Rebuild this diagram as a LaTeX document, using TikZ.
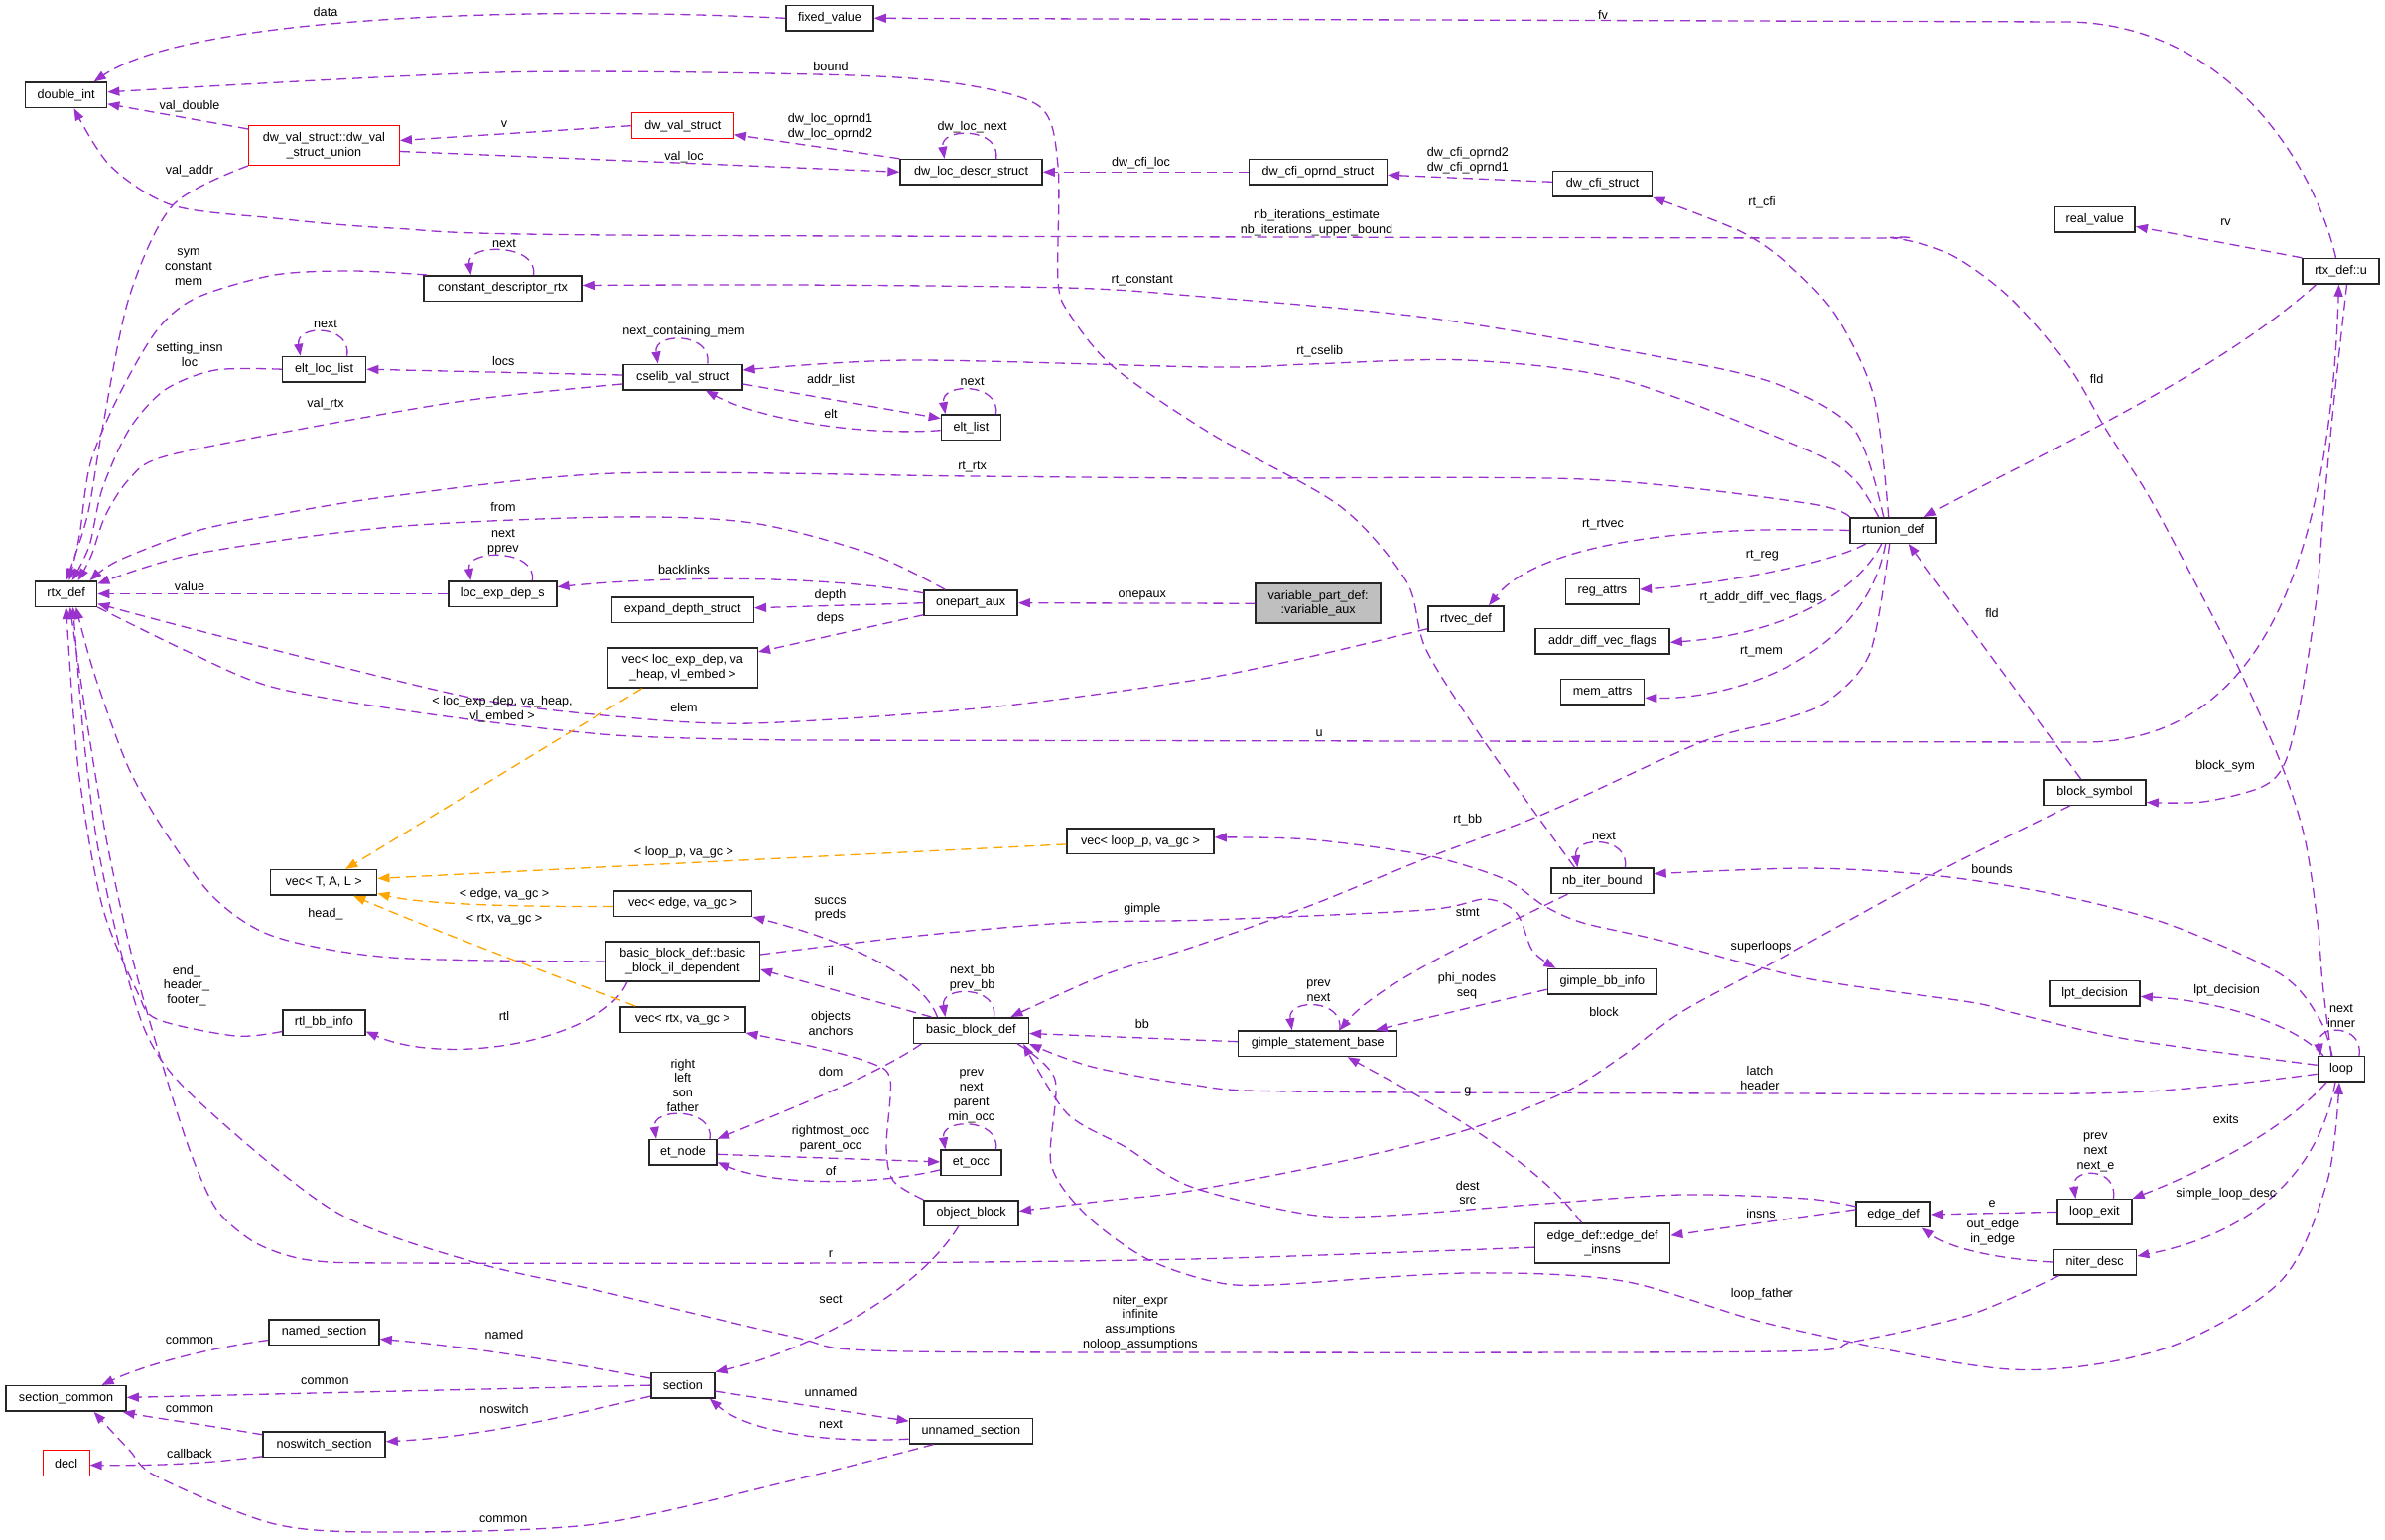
\documentclass[tikz,border=0pt]{standalone}
\usepackage{fontspec}
\setmainfont{Liberation Sans}
\usetikzlibrary{arrows.meta}
\definecolor{edgepurple}{HTML}{9A32CD}
\definecolor{tplorange}{HTML}{FFA500}
\definecolor{boxgray}{HTML}{BFBFBF}
\tikzset{
  box/.style={draw=black!85, line width=1.5pt, fill=white, minimum height=25.5pt, inner sep=0pt, align=center, font=\fontsize{12.6}{14.7}\selectfont},
  redbox/.style={box, draw=red, line width=1.1pt},
  lbl/.style={inner sep=0pt, align=center, font=\fontsize{12.6}{14.7}\selectfont},
  uses/.style={draw=edgepurple, line width=1.3pt, dash pattern=on 10pt off 6pt, -{Triangle[length=12pt,width=9pt]}},
  tmpl/.style={uses, draw=tplorange}
}
\begin{document}
\begin{tikzpicture}[x=1pt, y=-1pt]
  \path[use as bounding box, fill=white] (0,0) rectangle (2403,1552);

  \node[box, minimum width=82pt] (dblint) at (66.6,95.8) {double\_int};
  \node[redbox, minimum width=152pt, minimum height=40pt] (union) at (326.4,146.5) {dw\_val\_struct::dw\_val\\\_struct\_union};
  \node[redbox, minimum width=103pt] (dwval) at (687.8,126.7) {dw\_val\_struct};
  \node[box, minimum width=143pt] (dwloc) at (978.6,173.3) {dw\_loc\_descr\_struct};
  \node[box, minimum width=139pt] (cfiop) at (1327.9,173.3) {dw\_cfi\_oprnd\_struct};
  \node[box, minimum width=100pt] (cfi) at (1614.6,185.3) {dw\_cfi\_struct};
  \node[box, minimum width=88pt] (fixval) at (836,18.3) {fixed\_value};
  \node[box, minimum width=81pt] (realval) at (2110.7,221.3) {real\_value};
  \node[box, minimum width=77pt] (rtxu) at (2358.5,273.3) {rtx\_def::u};
  \node[box, minimum width=159pt] (cdrtx) at (506.5,290.5) {constant\_descriptor\_rtx};
  \node[box, minimum width=84pt] (eltloc) at (326.6,372.2) {elt\_loc\_list};
  \node[box, minimum width=120pt] (cselib) at (687.8,380) {cselib\_val\_struct};
  \node[box, minimum width=60pt] (eltlist) at (978.4,430.7) {elt\_list};
  \node[box, minimum width=62pt] (rtxdef) at (66.6,598.5) {rtx\_def};
  \node[box, minimum width=109pt] (locdep) at (506.3,598.5) {loc\_exp\_dep\_s};
  \node[box, minimum width=143pt] (expdepth) at (687.8,614.7) {expand\_depth\_struct};
  \node[box, minimum width=151pt, minimum height=40pt] (vecloc) at (687.8,673) {vec< loc\_exp\_dep, va\\\_heap, vl\_embed >};
  \node[box, minimum width=94pt] (onepart) at (978.2,607.7) {onepart\_aux};
  \node[box, fill=boxgray, minimum width=126pt, minimum height=40pt] (varaux) at (1328.1,608.2) {variable\_part\_def:\\:variable\_aux};
  \node[box, minimum width=76pt] (rtvec) at (1477,623.7) {rtvec\_def};
  \node[box, minimum width=74pt] (regattrs) at (1614.4,596) {reg\_attrs};
  \node[box, minimum width=135pt] (addrdiff) at (1614.6,646.3) {addr\_diff\_vec\_flags};
  \node[box, minimum width=84pt] (memattrs) at (1614.6,697.3) {mem\_attrs};
  \node[box, minimum width=87pt] (rtunion) at (1907.7,534.5) {rtunion\_def};
  \node[box, minimum width=103pt] (blocksym) at (2110.6,798.5) {block\_symbol};
  \node[box, minimum width=107pt] (vecT) at (326.2,889.4) {vec< T, A, L >};
  \node[box, minimum width=148pt] (vecloop) at (1149,847.9) {vec< loop\_p, va\_gc >};
  \node[box, minimum width=139pt] (vecedge) at (688,910.5) {vec< edge, va\_gc >};
  \node[box, minimum width=155pt, minimum height=40pt] (bbil) at (687.8,969) {basic\_block\_def::basic\\\_block\_il\_dependent};
  \node[box, minimum width=126pt] (vecrtx) at (687.8,1027.5) {vec< rtx, va\_gc >};
  \node[box, minimum width=83pt] (rtlbb) at (326.4,1030.5) {rtl\_bb\_info};
  \node[box, minimum width=103pt] (nbiter) at (1614.4,887.7) {nb\_iter\_bound};
  \node[box, minimum width=110pt] (gimplebb) at (1614.4,989.2) {gimple\_bb\_info};
  \node[box, minimum width=116pt] (bbdef) at (978.4,1038.5) {basic\_block\_def};
  \node[box, minimum width=160pt] (gsb) at (1327.7,1051.7) {gimple\_statement\_base};
  \node[box, minimum width=91pt] (lpt) at (2110.6,1001.4) {lpt\_decision};
  \node[box, minimum width=47pt] (loop) at (2358.9,1077.3) {loop};
  \node[box, minimum width=68pt] (etnode) at (688,1161.3) {et\_node};
  \node[box, minimum width=61pt] (etocc) at (978.4,1171.9) {et\_occ};
  \node[box, minimum width=95pt] (objblock) at (978.7,1222.5) {object\_block};
  \node[box, minimum width=136pt, minimum height=40pt] (edgeinsns) at (1614.6,1253.1) {edge\_def::edge\_def\\\_insns};
  \node[box, minimum width=75pt] (edgedef) at (1907.7,1223.9) {edge\_def};
  \node[box, minimum width=75pt] (loopexit) at (2110.4,1221.4) {loop\_exit};
  \node[box, minimum width=84pt] (niter) at (2110.6,1272) {niter\_desc};
  \node[box, minimum width=111pt] (namedsec) at (326.6,1342.5) {named\_section};
  \node[box, minimum width=121pt] (seccommon) at (66.6,1409.4) {section\_common};
  \node[box, minimum width=123pt] (noswitch) at (326.6,1455.8) {noswitch\_section};
  \node[redbox, minimum width=47pt] (decl) at (66.6,1474.5) {decl};
  \node[box, minimum width=64pt] (section) at (687.8,1396.1) {section};
  \node[box, minimum width=124pt] (unnamed) at (978.4,1442.2) {unnamed\_section};

  \draw[uses] (fixval.west) .. controls (520,5) and (190,18) .. ([xshift=28pt]dblint.north);
  \draw[uses] ([yshift=-4pt]union.north west) -- ([yshift=-9pt]dblint.east);
  \draw[uses] plot[smooth] coordinates {([xshift=-28pt]nbiter.north) (1496,748) (1437,655) (1417,586) (1350,510) (1220,437) (1122,370) (1078,317) (1066,283) (1066,167) (1047,107) (956,83) (821,75) (500,73) ([yshift=3pt]dblint.east)};
  \draw[uses] plot[smooth] coordinates {([xshift=-10pt]loop.north) (2340,990) (2335,930) (2322,844) (2298,769) (2255,672) (2220,603) (2165,500) (2122,433) (2083,367) (2025,300) (1966,257) (1907,240) (1820,240) (620,237) (395,230) (277,220) (174,207) (111,167) ([xshift=8pt]dblint.south)};
  \draw[uses] (dwval.west) -- ([yshift=5pt]union.east);
  \draw[uses] ([yshift=-6pt]union.east) -- (dwloc.west);
  \draw[uses] plot[smooth] coordinates {(union.south west) (174,207) (130,300) (103,433) (88,520) (rtxdef.north)};
  \draw[uses] (dwloc.north west) -- ([yshift=-9pt]dwval.east);
  \draw[uses] (cfiop.west) -- (dwloc.east);
  \draw[uses] ([yshift=2pt]cfi.west) -- ([yshift=-3pt]cfiop.east);

  \draw[uses] plot[smooth] coordinates {([xshift=-5pt]rtunion.north) (1888,400) (1849,317) (1800,265) (1753,233) (cfi.south east)};
  \draw[uses] plot[smooth] coordinates {([xshift=-10pt]rtunion.north) (1868,433) (1790,387) (1674,360) (1437,320) (1200,298) (1074,290) (800,287) ([yshift=3pt]cdrtx.east)};
  \draw[uses] plot[smooth] coordinates {([xshift=-15pt]rtunion.north) (1868,483) (1820,453) (1635,383) (1477,363) (1319,367) (1220,370) (916,363) ([yshift=7pt]cselib.east)};
  \draw[uses] plot[smooth] coordinates {(rtunion.north west) (1820,507) (1595,483) (1220,482) (980,480) (620,477) (395,500) (277,519) (198,535) (119,565) ([xshift=24pt]rtxdef.north)};
  \draw[uses] (rtunion.west) .. controls (1650,528) and (1540,560) .. ([xshift=23pt]rtvec.north);
  \draw[uses] ([xshift=-28pt]rtunion.south) .. controls (1840,570) and (1720,590) .. ([yshift=2pt]regattrs.east);
  \draw[uses] ([xshift=-12pt]rtunion.south) .. controls (1870,600) and (1790,640) .. ([yshift=-1pt]addrdiff.east);
  \draw[uses] ([xshift=-8pt]rtunion.south) .. controls (1880,660) and (1750,705) .. ([yshift=-6pt]memattrs.east);
  \draw[uses] plot[smooth] coordinates {([xshift=-4pt]rtunion.south) (1884,658) (1841,707) (1790,727) (1714,748) (1556,820) (1437,865) (1319,913) (1200,955) (1114,982) ([xshift=40pt]bbdef.north)};
  \draw[uses] ([xshift=-25pt]rtxu.south) .. controls (2230,380) and (2050,460) .. ([xshift=31pt]rtunion.north);
  \draw[uses] ([xshift=-14pt]blocksym.north) -- ([xshift=15pt]rtunion.south);
  \draw[uses] plot[smooth] coordinates {([xshift=-25pt]blocksym.south) (1946,882) (1790,968) (1694,1020) (1635,1064) (1576,1101) (1477,1139) (1358,1169) (1200,1200) (1114,1210) ([yshift=2pt]objblock.east)};

  \draw[uses] plot[smooth] coordinates {([yshift=-10pt]rtvec.west) (1319,662) (1200,686) (995,713) (758,729) (620,722) (474,703) (237,645) ([yshift=-10pt]rtxdef.east)};
  \draw[uses] plot[smooth] coordinates {(rtxdef.south east) (190,657) (277,693) (435,720) (620,741) (800,746)} -- (2100,748) .. controls (2250,748) and (2345,620) .. ([xshift=-2pt]rtxu.south);
  \draw[uses] plot[smooth] coordinates {([xshift=6pt]rtxu.south) (2352,400) (2341,515) (2334,603) (2318,707) (2302,769) (2279,793) (2220,808) ([yshift=-10pt]blocksym.east)};
  \draw[uses] ([xshift=-5pt]rtxu.north) .. controls (2330,160) and (2240,22) .. (2080,22) -- (fixval.east);
  \draw[uses] (rtxu.north west) -- ([yshift=-7pt]realval.east);

  \draw[uses] plot[smooth] coordinates {([xshift=4pt]cdrtx.north west) (356,273) (277,277) (198,300) (158,333) (119,400) (91,467) (80,540) ([xshift=3pt]rtxdef.north)};
  \draw[uses] plot[smooth] coordinates {(eltloc.west) (217,373) (166,393) (130,433) (103,493) (90,550) ([xshift=6pt]rtxdef.north)};
  \draw[uses] ([yshift=2pt]cselib.west) -- (eltloc.east);
  \draw[uses] plot[smooth] coordinates {([yshift=-7pt]cselib.west) (474,403) (316,430) (166,460) (130,483) (106,520) (92,560) ([xshift=12pt]rtxdef.north)};
  \draw[uses] ([yshift=-7pt]cselib.east) -- ([yshift=9pt]eltlist.west);
  \draw[uses] ([yshift=-3pt]eltlist.west) .. controls (860,440) and (760,420) .. ([xshift=23pt]cselib.south);
  \draw[uses] plot[smooth] coordinates {([xshift=-26pt]onepart.north) (877,558) (758,527) (620,521) (395,531) (198,558) ([yshift=10pt]rtxdef.east)};
  \draw[uses] (locdep.west) -- (rtxdef.east);
  \draw[uses] ([yshift=10pt]onepart.west) .. controls (830,580) and (680,580) .. ([yshift=7pt]locdep.east);
  \draw[uses] (onepart.west) -- ([yshift=2pt]expdepth.east);
  \draw[uses] ([yshift=-12pt]onepart.west) -- ([yshift=16pt]vecloc.east);
  \draw[uses] (varaux.west) -- (onepart.east);
  \draw[tmpl] ([xshift=-41pt]vecloc.south) -- ([xshift=22pt]vecT.north);

  \draw[uses] plot[smooth] coordinates {(bbil.west) (395,965) (277,944) (217,906) (170,844) (130,775) (95,679) ([xshift=10pt]rtxdef.south)};
  \draw[uses] plot[smooth] coordinates {([yshift=-9pt]rtlbb.west) (237,1044) (158,1027) (138,999) (103,913) (79,775) (rtxdef.south)};
  \draw[uses] ([xshift=-56pt]bbil.south) .. controls (605,1050) and (450,1075) .. ([yshift=-9pt]rtlbb.east);
  \draw[uses] plot[smooth] coordinates {([yshift=-4pt]edgeinsns.west) (1200,1269) (837,1273) (400,1273) (320,1271) (282,1263) (250,1248) (217,1217) (190,1156) (158,1054) (132,960) (108,850) (88,730) ([xshift=4pt]rtxdef.south)};
  \draw[uses] plot[smooth] coordinates {([xshift=-36pt]niter.south) (1985,1325) (1868,1352) (1790,1362) (1200,1363) (877,1361) (798,1347) (600,1300) (474,1271) (336,1220) (198,1108) (150,1047) (122,960) (98,850) (84,740) ([xshift=7pt]rtxdef.south)};

  \draw[uses] plot[smooth] coordinates {([xshift=-12pt]bbdef.south east) (1063,1088) (1059,1173) (1094,1224) (1154,1268) (1220,1291) (1279,1295) (1477,1283) (1635,1291) (1790,1336) (2025,1380) (2181,1359) (2298,1291) (2345,1190) ([xshift=-2pt]loop.south)};
  \draw[uses] plot[smooth] coordinates {([yshift=-5pt]loop.west) (2142,1101) (1790,1102) (1300,1100) (1200,1093) (1100,1075) (bbdef.south east)};
  \draw[uses] ([xshift=-21pt]edgeinsns.north) .. controls (1540,1160) and (1420,1100) .. ([xshift=30pt]gsb.south);
  \draw[uses] ([yshift=5pt]edgedef.west) -- ([yshift=8pt]edgeinsns.east);
  \draw[uses] plot[smooth] coordinates {([yshift=8pt]edgedef.west) (1820,1208) (1694,1204) (1556,1213) (1398,1225) (1319,1224) (1200,1196) (1134,1156) (1075,1122) ([xshift=-6pt]bbdef.south east)};
  \draw[uses] (loopexit.west) -- (edgedef.east);
  \draw[uses] (niter.west) .. controls (2000,1268) and (1960,1255) .. ([xshift=29pt]edgedef.south);
  \draw[uses] ([xshift=-15pt]loop.south) .. controls (2300,1140) and (2220,1180) .. (loopexit.north east);
  \draw[uses] ([xshift=-6pt]loop.south) .. controls (2335,1190) and (2260,1245) .. ([yshift=6pt]niter.east);
  \draw[uses] ([xshift=-18pt]loop.north) .. controls (2310,1030) and (2230,1008) .. ([yshift=-3pt]lpt.east);
  \draw[uses] plot[smooth] coordinates {([xshift=-9pt]loop.north) (2337,1027) (2298,982) (2181,930) (2064,900) (1946,882) (1820,875) ([yshift=7pt]nbiter.east)};
  \draw[uses] plot[smooth] coordinates {([yshift=4pt]loop.west) (2142,1047) (2025,1020) (1985,1010) (1820,986) (1674,948) (1595,930) (1556,913) (1516,886) (1437,862) (1319,846) ([yshift=4pt]vecloop.east)};

  \draw[uses] ([xshift=-34pt]bbdef.north) .. controls (930,985) and (860,950) .. (vecedge.south east);
  \draw[uses] ([xshift=-40pt]bbdef.north) -- ([yshift=-8pt]bbil.east);
  \draw[uses] plot[smooth] coordinates {([yshift=7pt]bbil.east) (916,944) (1075,930) (1220,927) (1437,917) (1497,906) (1528,920) (1544,958) ([xshift=-47pt]gimplebb.north)};
  \draw[uses] ([yshift=2pt]gsb.west) -- ([yshift=-3pt]bbdef.east);
  \draw[uses] ([xshift=-35pt]nbiter.south) .. controls (1500,940) and (1390,990) .. ([xshift=22pt]gsb.north);
  \draw[uses] ([yshift=-8pt]gimplebb.west) -- ([xshift=58pt]gsb.north);
  \draw[uses] ([xshift=-50pt]bbdef.south) .. controls (880,1085) and (790,1120) .. (etnode.north east);
  \draw[uses] ([yshift=-2pt]etnode.east) -- ([yshift=1pt]etocc.west);
  \draw[uses] ([yshift=-7pt]etocc.west) .. controls (880,1195) and (780,1195) .. ([yshift=-10pt]etnode.east);
  \draw[uses] plot[smooth] coordinates {(objblock.north west) (900,1190) (893,1156) (897,1088) (877,1071) (820,1055) (vecrtx.south east)};
  \draw[uses] ([xshift=-13pt]objblock.south) .. controls (920,1310) and (800,1365) .. (section.north east);
  \draw[uses] ([yshift=-6pt]section.east) -- ([yshift=10pt]unnamed.west);
  \draw[uses] ([yshift=-8pt]unnamed.west) .. controls (820,1455) and (750,1440) .. ([xshift=27pt]section.south);
  \draw[uses] ([yshift=7pt]section.west) .. controls (560,1370) and (450,1355) .. ([yshift=-7pt]namedsec.east);
  \draw[uses] (section.west) -- ([yshift=1pt]seccommon.east);
  \draw[uses] ([yshift=-11pt]section.west) .. controls (560,1430) and (480,1448) .. ([yshift=3pt]noswitch.east);
  \draw[uses] ([yshift=-8pt]namedsec.west) .. controls (200,1360) and (140,1378) .. ([xshift=36pt]seccommon.north);
  \draw[uses] ([yshift=10pt]noswitch.west) .. controls (200,1435) and (150,1428) .. ([xshift=-4pt]seccommon.south east);
  \draw[uses] ([yshift=-12pt]noswitch.west) .. controls (200,1476) and (150,1477) .. ([yshift=-2pt]decl.east);
  \draw[uses] plot[smooth] coordinates {([xshift=-38pt]unnamed.south) (798,1492) (600,1536) (395,1544) (277,1536) (158,1488) (130,1461) ([xshift=28pt]seccommon.south)};

  \draw[tmpl] ([yshift=-3pt]vecloop.west) .. controls (850,862) and (600,874) .. ([yshift=4pt]vecT.east);
  \draw[tmpl] ([yshift=-3pt]vecedge.west) .. controls (500,914) and (420,910) .. ([yshift=-11pt]vecT.east);
  \draw[tmpl] ([xshift=-48pt]vecrtx.north) .. controls (600,998) and (480,955) .. ([xshift=30pt]vecT.south);

  \foreach \n/\a/\b in {cdrtx/31/-32, eltloc/23/-24, cselib/25/-25, dwloc/25/-27, eltlist/25/-26, locdep/30/-32, nbiter/23/-25, bbdef/23/-26, gsb/22/-26, etnode/27/-27, etocc/25/-26, loopexit/19/-19, loop/18/-21}
    \draw[uses] ([xshift=\a pt]\n.north) .. controls +(5,-32) and +(-5,-32) .. ([xshift=\b pt]\n.north);

  \node[lbl] (l-data) at (328,12) {data};
  \node[lbl] (l-fv) at (1615,15) {fv};
  \node[lbl] (l-valdouble) at (191,107) {val\_double};
  \node[lbl] (l-bound) at (837,67) {bound};
  \node[lbl] (l-v) at (508,125) {v};
  \node[lbl] (l-valloc) at (689,158) {val\_loc};
  \node[lbl] (l-valaddr) at (191,172) {val\_addr};
  \node[lbl] (l-oprnd) at (836.5,128) {dw\_loc\_oprnd1\\dw\_loc\_oprnd2};
  \node[lbl] (l-locnext) at (979.6,127.7) {dw\_loc\_next};
  \node[lbl] (l-cfiloc) at (1149.6,164.3) {dw\_cfi\_loc};
  \node[lbl] (l-cfioprnd) at (1478.8,161.5) {dw\_cfi\_oprnd2\\dw\_cfi\_oprnd1};
  \node[lbl] (l-nbiter) at (1326.5,224.5) {nb\_iterations\_estimate\\nb\_iterations\_upper\_bound};
  \node[lbl] (l-rtcfi) at (1775,204) {rt\_cfi};
  \node[lbl] (l-rv) at (2242.5,224) {rv};
  \node[lbl] (l-cdnext) at (508,245) {next};
  \node[lbl] (l-sym) at (190,269) {sym\\constant\\mem};
  \node[lbl] (l-rtconst) at (1150.8,282.3) {rt\_constant};
  \node[lbl] (l-elnext) at (328,326.7) {next};
  \node[lbl] (l-nextmem) at (689,334.3) {next\_containing\_mem};
  \node[lbl] (l-setting) at (191,357.7) {setting\_insn\\loc};
  \node[lbl] (l-locs) at (507.3,364.3) {locs};
  \node[lbl] (l-rtcselib) at (1329.7,354.3) {rt\_cselib};
  \node[lbl] (l-addrlist) at (837,383.3) {addr\_list};
  \node[lbl] (l-eltnext) at (979.6,384.3) {next};
  \node[lbl] (l-fldu) at (2112.6,382.3) {fld};
  \node[lbl] (l-valrtx) at (328,407.3) {val\_rtx};
  \node[lbl] (l-elt) at (837,416.7) {elt};
  \node[lbl] (l-rtrtx) at (979.6,471) {rt\_rtx};
  \node[lbl] (l-from) at (507,511.4) {from};
  \node[lbl] (l-rtrtvec) at (1615,528.6) {rt\_rtvec};
  \node[lbl] (l-pprev) at (507,546) {next\\pprev};
  \node[lbl] (l-rtreg) at (1775.3,560) {rt\_reg};
  \node[lbl] (l-backlinks) at (689,574) {backlinks};
  \node[lbl] (l-value) at (191,590.6) {value};
  \node[lbl] (l-depth) at (836.5,600.6) {depth};
  \node[lbl] (l-onepaux) at (1150.8,600) {onepaux};
  \node[lbl] (l-rtaddr) at (1774.5,602) {rt\_addr\_diff\_vec\_flags};
  \node[lbl] (l-fldb) at (2007,618) {fld};
  \node[lbl] (l-deps) at (836.5,623.3) {deps};
  \node[lbl] (l-rtmem) at (1774.5,656.7) {rt\_mem};
  \node[lbl] (l-elem) at (689,713) {elem};
  \node[lbl] (l-tlocexp) at (506,715) {< loc\_exp\_dep, va\_heap,\\vl\_embed >};
  \node[lbl] (l-u) at (1329,739) {u};
  \node[lbl] (l-blocksym) at (2242,772) {block\_sym};
  \node[lbl] (l-rtbb) at (1478.8,826.5) {rt\_bb};
  \node[lbl] (l-nbnext) at (1616,842.7) {next};
  \node[lbl] (l-tloop) at (689,859.2) {< loop\_p, va\_gc >};
  \node[lbl] (l-bounds) at (2007,876) {bounds};
  \node[lbl] (l-tedge) at (508,901) {< edge, va\_gc >};
  \node[lbl] (l-gimple) at (1150.8,916.7) {gimple};
  \node[lbl] (l-succs) at (836.5,916.3) {succs\\preds};
  \node[lbl] (l-head) at (328,921) {head\_};
  \node[lbl] (l-stmt) at (1478.8,919.5) {stmt};
  \node[lbl] (l-trtx) at (508,927) {< rtx, va\_gc >};
  \node[lbl] (l-superloops) at (1774.5,954.6) {superloops};
  \node[lbl] (l-il) at (837,978.7) {il};
  \node[lbl] (l-nextbb) at (979.6,985.6) {next\_bb\\prev\_bb};
  \node[lbl] (l-endhdr) at (188,993.5) {end\_\\header\_\\footer\_};
  \node[lbl] (l-phi) at (1478,993.8) {phi\_nodes\\seq};
  \node[lbl] (l-gsbnext) at (1328.5,999) {prev\\next};
  \node[lbl] (l-lpt) at (2243.6,998.7) {lpt\_decision};
  \node[lbl] (l-block) at (1616,1020) {block};
  \node[lbl] (l-inner) at (2359,1024.3) {next\\inner};
  \node[lbl] (l-rtl) at (508,1024) {rtl};
  \node[lbl] (l-objects) at (837,1031.3) {objects\\anchors};
  \node[lbl] (l-bb) at (1150.8,1032) {bb};
  \node[lbl] (l-dom) at (837,1080) {dom};
  \node[lbl] (l-latch) at (1773,1086.5) {latch\\header};
  \node[lbl] (l-g) at (1478.8,1100.4) {g};
  \node[lbl] (l-etnode) at (687.8,1093.8) {right\\left\\son\\father};
  \node[lbl] (l-etocc) at (978.8,1104.8) {prev\\next\\parent\\min\_occ};
  \node[lbl] (l-exits) at (2242.8,1127.6) {exits};
  \node[lbl] (l-rightmost) at (837,1148) {rightmost\_occ\\parent\_occ};
  \node[lbl] (l-exitnext) at (2111.4,1161.3) {prev\\next\\next\_e};
  \node[lbl] (l-of) at (837,1179.5) {of};
  \node[lbl] (l-dest) at (1478.8,1202) {dest\\src};
  \node[lbl] (l-simple) at (2242.8,1203) {simple\_loop\_desc};
  \node[lbl] (l-e) at (2007,1212.7) {e};
  \node[lbl] (l-insns) at (1774,1222.6) {insns};
  \node[lbl] (l-outedge) at (2007.8,1242) {out\_edge\\in\_edge};
  \node[lbl] (l-r) at (837,1264.3) {r};
  \node[lbl] (l-loopfather) at (1775.3,1304) {loop\_father};
  \node[lbl] (l-sect) at (837,1309) {sect};
  \node[lbl] (l-niterexpr) at (1148.8,1333) {niter\_expr\\infinite\\assumptions\\noloop\_assumptions};
  \node[lbl] (l-named) at (508,1344.7) {named};
  \node[lbl] (l-common1) at (191,1350.8) {common};
  \node[lbl] (l-common2) at (327.4,1392.5) {common};
  \node[lbl] (l-unnamed) at (837,1403.4) {unnamed};
  \node[lbl] (l-noswitch) at (508,1419.7) {noswitch};
  \node[lbl] (l-common3) at (191,1419.7) {common};
  \node[lbl] (l-secnext) at (837,1435.6) {next};
  \node[lbl] (l-callback) at (191,1464.5) {callback};
  \node[lbl] (l-common4) at (507.3,1530.7) {common};
\end{tikzpicture}
\end{document}
